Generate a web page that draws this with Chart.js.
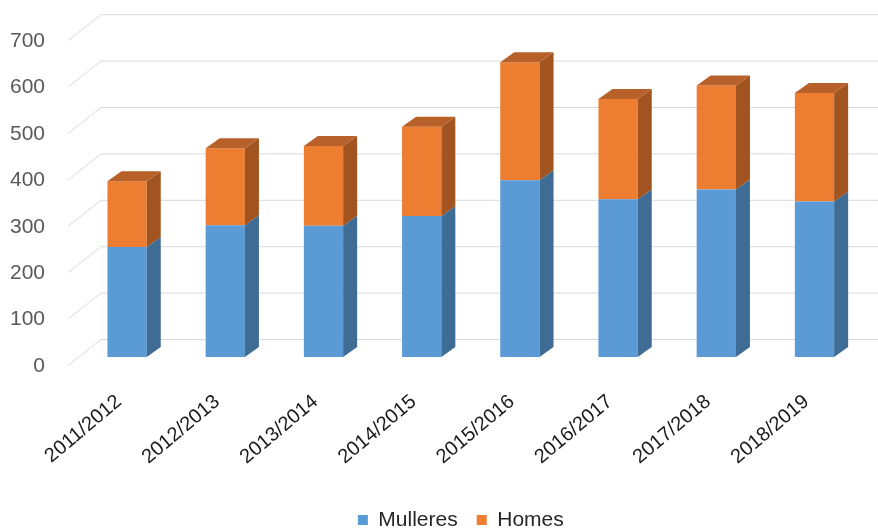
<!DOCTYPE html>
<html><head><meta charset="utf-8">
<script src="https://cdn.jsdelivr.net/npm/chart.js@4"></script>
<style>html,body{margin:0;padding:0;background:#fff}#wrap{width:878px;height:529px;position:relative}</style>
</head><body><div id="wrap"><canvas id="c"></canvas></div>
<script>
const categories = ['2011/2012','2012/2013','2013/2014','2014/2015','2015/2016','2016/2017','2017/2018','2018/2019'];
const mulleres = [237, 284, 283, 304, 381, 340, 361, 335];
const homes = [142, 166, 172, 192, 254, 216, 224, 234];
const yTicks = [0, 100, 200, 300, 400, 500, 600, 700];
const seriesNames = ['Mulleres', 'Homes'];

const FRONT_COLORS = ['#5B9BD5', '#ED7D31'];
const SIDE_COLORS = ['#3F6C94', '#A1541F'];
const TOP_COLORS = ['#4F86B8', '#B8602A'];
const DX = 14, DY = -10;           // bar depth offset
const WALL_DX = 23, WALL_DY = -17.5, FRONT_DX = -10, FRONT_DY = 8.5;
const PAD_BOTTOM = -11.5;
const FONT = "'Liberation Sans', Arial, sans-serif";

function poly(ctx, pts){
  ctx.beginPath(); ctx.moveTo(pts[0][0], pts[0][1]);
  for (let i = 1; i < pts.length; i++) ctx.lineTo(pts[i][0], pts[i][1]);
  ctx.closePath(); ctx.fill();
}

const depth3d = {
  id: 'depth3d',
  beforeDatasetsDraw(chart){
    const ctx = chart.ctx, ys = chart.scales.y, ca = chart.chartArea;
    ctx.save();
    ctx.strokeStyle = '#D9D9D9'; ctx.lineWidth = 1;
    yTicks.forEach(v => {
      const py = ys.getPixelForValue(v);
      ctx.beginPath();
      ctx.moveTo(ca.left + FRONT_DX, py + FRONT_DY);
      ctx.lineTo(ca.left + WALL_DX, py + WALL_DY);
      ctx.lineTo(chart.width, py + WALL_DY);
      ctx.stroke();
    });
    ctx.restore();
  },
  afterDatasetsDraw(chart){
    const ctx = chart.ctx;
    const n = chart.data.datasets.length;
    ctx.save();
    chart.data.datasets.forEach((ds, di) => {
      const meta = chart.getDatasetMeta(di);
      meta.data.forEach(bar => {
        const p = bar.getProps(['x','y','base','width'], true);
        const l = p.x - p.width/2, r = p.x + p.width/2;
        const t = Math.min(p.y, p.base), b = Math.max(p.y, p.base);
        ctx.fillStyle = SIDE_COLORS[di];
        poly(ctx, [[r,t],[r+DX,t+DY],[r+DX,b+DY],[r,b]]);
        if (di === n - 1) {
          ctx.fillStyle = TOP_COLORS[di];
          poly(ctx, [[l,t],[l+DX,t+DY],[r+DX,t+DY],[r,t]]);
        }
      });
    });
    ctx.restore();
  }
};

new Chart(document.getElementById('c'), {
  type: 'bar',
  data: {
    labels: categories,
    datasets: [
      { label: seriesNames[0], data: mulleres, backgroundColor: FRONT_COLORS[0], borderWidth: 0 },
      { label: seriesNames[1], data: homes, backgroundColor: FRONT_COLORS[1], borderWidth: 0 }
    ]
  },
  options: {
    responsive: true,
    maintainAspectRatio: false,
    animation: false,
    devicePixelRatio: 1,
    categoryPercentage: 0.8,
    barPercentage: 0.5,
    layout: { padding: { left: 58, right: 14.4, top: 32.2, bottom: PAD_BOTTOM } },
    plugins: {
      legend: {
        position: 'bottom',
        labels: { boxWidth: 10, boxHeight: 10, padding: 19, color: '#262626', font: { family: FONT, size: 21 } }
      },
      tooltip: { enabled: false }
    },
    scales: {
      x: {
        stacked: true,
        grid: { display: false, drawTicks: false },
        border: { display: false },
        ticks: { autoSkip: false, minRotation: 40, maxRotation: 40, padding: 33, labelOffset: -8,
                 color: '#1A1A1A', font: { family: FONT, size: 20 } },
        afterFit: s => { s.height = s.chart.height - 357 - s.chart.legend.height - PAD_BOTTOM; }
      },
      y: {
        stacked: true,
        min: 0, max: yTicks[yTicks.length - 1],
        grid: { display: false, drawTicks: false },
        border: { display: false },
        ticks: { stepSize: yTicks[1] - yTicks[0], autoSkip: false, mirror: true, crossAlign: 'far',
                 padding: -68, labelOffset: 9, color: '#595959', font: { family: FONT, size: 21 } },
        afterFit: s => { s.width = 20; s.paddingTop = 0; s.paddingBottom = 0; }
      }
    }
  },
  plugins: [depth3d]
});
</script>
</body></html>
